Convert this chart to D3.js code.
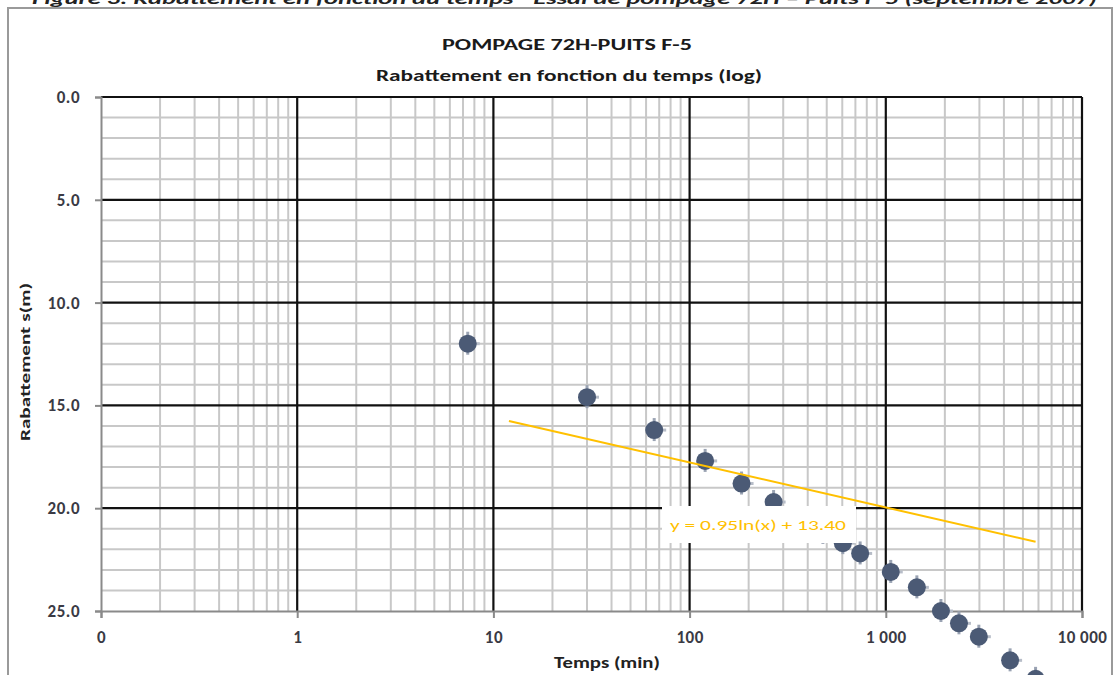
<!DOCTYPE html>
<html>
<head>
<meta charset="utf-8">
<script src="https://cdnjs.cloudflare.com/ajax/libs/d3/7.8.5/d3.min.js"></script>
<style>
  html, body { margin: 0; padding: 0; background: #fff; }
  svg { display: block; }
  text { font-family: Carlito, Lato, "Open Sans", sans-serif; }
</style>
</head>
<body>
<script>
// ---------- data ----------
const timeMin   = [7.4, 30, 66, 120, 184, 268, 478, 604, 740, 1060, 1440, 1910, 2360, 2980, 4300, 5800];
const drawdown  = [12.0, 14.6, 16.2, 17.7, 18.8, 19.7, 21.2, 21.7, 22.2, 23.1, 23.85, 25.0, 25.6, 26.25, 27.4, 28.3];
const xTickValues = [0.1, 1, 10, 100, 1000, 10000];
const xTickLabels = ["0", "1", "10", "100", "1 000", "10 000"];
const yTickValues = [0, 5, 10, 15, 20, 25];
const yTickLabels = ["0.0", "5.0", "10.0", "15.0", "20.0", "25.0"];
const trendRange = [12, 5800];      // span of the drawn trendline (min)
const trendCoef  = [0.95, 13.40];   // y = a ln(x) + b
const titleLines = ["POMPAGE 72H-PUITS F-5", "Rabattement en fonction du temps (log)"];
const captionText = "Figure 3. Rabattement en fonction du temps - Essai de pompage 72H \u2013 Puits F-5 (septembre 2007)";
const trendLabel = "y = 0.95ln(x) + 13.40";

// ---------- layout ----------
const W = 1116, H = 675;
const svg = d3.select("body").append("svg").attr("width", W).attr("height", H);

const x = d3.scaleLog().domain([0.1, 10000]).range([101, 1082]);
const y = d3.scaleLinear().domain([0, 25]).range([97, 611]);

// caption cut at top (as in the reference)
svg.append("text").attr("x", 32).attr("y", 4)
  .attr("font-size", 17).attr("font-style", "italic").attr("font-weight", "bold")
  .attr("fill", "#222").attr("textLength", 1065).attr("lengthAdjust", "spacingAndGlyphs")
  .text(captionText);

// chart border
svg.append("rect").attr("x", 8).attr("y", 8).attr("width", 1104).attr("height", 720)
  .attr("fill", "none").attr("stroke", "#9a9a9a").attr("stroke-width", 2);

// titles
svg.append("text").attr("x", 567).attr("y", 50).attr("text-anchor", "middle")
  .attr("font-size", 16).attr("font-weight", "bold").attr("fill", "#1a1a1a")
  .attr("textLength", 250).attr("lengthAdjust", "spacingAndGlyphs")
  .text(titleLines[0]);
svg.append("text").attr("x", 569).attr("y", 81).attr("text-anchor", "middle")
  .attr("font-size", 16).attr("font-weight", "bold").attr("fill", "#1a1a1a")
  .attr("textLength", 386).attr("lengthAdjust", "spacingAndGlyphs")
  .text(titleLines[1]);

// ---------- grid ----------
const g = svg.append("g");
const minorX = [];
for (let e = -1; e < 4; e++) for (let m = 2; m <= 9; m++) minorX.push(m * Math.pow(10, e));
const minorY = d3.range(0, 26, 1).filter(v => v % 5 !== 0);

g.selectAll(".mx").data(minorX).enter().append("line")
  .attr("x1", d => x(d)).attr("x2", d => x(d)).attr("y1", y(0)).attr("y2", y(25))
  .attr("stroke", "#c8c8c8").attr("stroke-width", 2);
g.selectAll(".my").data(minorY).enter().append("line")
  .attr("x1", x(0.1)).attr("x2", x(10000)).attr("y1", d => y(d)).attr("y2", d => y(d))
  .attr("stroke", "#c8c8c8").attr("stroke-width", 2);
// major
g.selectAll(".Mx").data(xTickValues.slice(1)).enter().append("line")
  .attr("x1", d => x(d)).attr("x2", d => x(d)).attr("y1", y(0)).attr("y2", y(25))
  .attr("stroke", "#111").attr("stroke-width", 2.2);
g.selectAll(".My").data(yTickValues.slice(0, -1)).enter().append("line")
  .attr("x1", x(0.1)).attr("x2", x(10000)).attr("y1", d => y(d)).attr("y2", d => y(d))
  .attr("stroke", "#111").attr("stroke-width", 2.2);

// ---------- axes ----------
const xAxis = d3.axisBottom(x).tickValues(xTickValues)
  .tickFormat((d, i) => xTickLabels[i]).tickSize(7).tickPadding(13);
const gx = svg.append("g").attr("transform", `translate(0,${y(25)})`).call(xAxis);
gx.select(".domain").attr("stroke", "#8a8a8a").attr("stroke-width", 2);
gx.selectAll(".tick line").attr("stroke", "#8a8a8a").attr("stroke-width", 2);
gx.selectAll(".tick text").style("font-size", "17px").style("font-weight", "bold")
  .style("letter-spacing", "0.5px").attr("fill", "#3a3a44");

const yAxis = d3.axisLeft(y).tickValues(yTickValues)
  .tickFormat((d, i) => yTickLabels[i]).tickSize(6).tickPadding(15);
const gy = svg.append("g").attr("transform", `translate(${x(0.1)},0)`).call(yAxis);
gy.select(".domain").attr("stroke", "#8a8a8a").attr("stroke-width", 2);
gy.selectAll(".tick line").attr("stroke", "#8a8a8a").attr("stroke-width", 2);
gy.selectAll(".tick text").style("font-size", "17px").style("font-weight", "bold")
  .style("letter-spacing", "0.5px").attr("fill", "#3a3a44");

// axis titles
svg.append("text").attr("x", 607).attr("y", 668).attr("text-anchor", "middle")
  .attr("font-size", 15).attr("font-weight", "bold").attr("fill", "#222")
  .attr("textLength", 106).attr("lengthAdjust", "spacingAndGlyphs").text("Temps (min)");
svg.append("text").attr("transform", "translate(30,362) rotate(-90)").attr("text-anchor", "middle")
  .attr("font-size", 13).attr("font-weight", "bold").attr("fill", "#222")
  .attr("textLength", 158).attr("lengthAdjust", "spacingAndGlyphs").text("Rabattement s(m)");

// ---------- data points ----------
const pts = timeMin.map((t, i) => ({ t, s: drawdown[i] }));
const pg = svg.append("g");
pg.selectAll(".eb").data(pts).enter().append("line")
  .attr("x1", d => x(d.t)).attr("x2", d => x(d.t))
  .attr("y1", d => y(d.s) - 12).attr("y2", d => y(d.s) + 11)
  .attr("stroke", "#9aa3b3").attr("stroke-width", 3);
pg.selectAll(".ebh").data(pts).enter().append("line")
  .attr("x1", d => x(d.t)).attr("x2", d => x(d.t) + 12)
  .attr("y1", d => y(d.s)).attr("y2", d => y(d.s))
  .attr("stroke", "#b7bdc8").attr("stroke-width", 3);
pg.selectAll("circle").data(pts).enter().append("circle")
  .attr("cx", d => x(d.t)).attr("cy", d => y(d.s)).attr("r", 9)
  .attr("fill", "#4b5a75");

// ---------- trendline ----------
const trendPts = trendRange.map(t => ({ t, s: trendCoef[0] * Math.log(t) + trendCoef[1] }));
svg.append("path").datum(trendPts)
  .attr("d", d3.line().x(d => x(d.t)).y(d => y(d.s)))
  .attr("fill", "none").attr("stroke", "#FFC000").attr("stroke-width", 2);

// trendline label
svg.append("rect").attr("x", 662).attr("y", 506).attr("width", 194).attr("height", 37).attr("fill", "#fff");
svg.append("text").attr("x", 758).attr("y", 530).attr("text-anchor", "middle")
  .attr("font-size", 15).attr("fill", "#FFC000")
  .attr("textLength", 176).attr("lengthAdjust", "spacingAndGlyphs").text(trendLabel);
</script>
</body>
</html>
